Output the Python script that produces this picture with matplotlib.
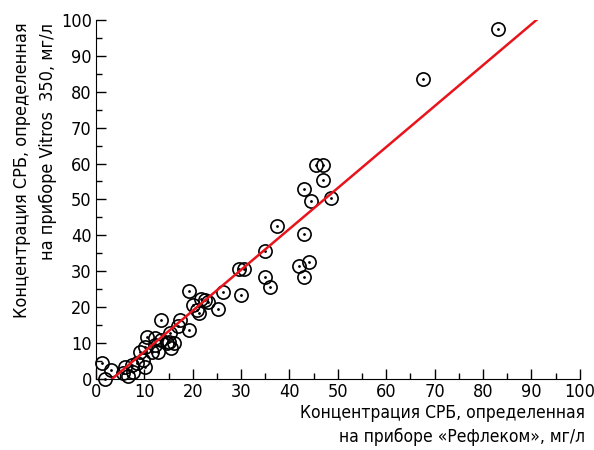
import numpy as np
import matplotlib
matplotlib.use('Agg')
import matplotlib.pyplot as plt
from matplotlib.ticker import MultipleLocator

plt.rcParams['font.family'] = ['DejaVu Sans']
plt.rcParams['font.stretch'] = 'condensed'

# Reflekom (x) vs Vitros 350 (y), mg/l
reflekom = [83, 67.5, 45.5, 47, 47, 43, 44.5, 48.5, 37.5, 43, 35, 29.5, 30.5, 35, 36,
            42, 44, 43, 30, 26.3, 19.2, 21.8, 22.5, 23.2, 20.1, 20.8, 21.3, 25.3,
            13.4, 17.4, 17, 19.3, 15.3, 15, 16.2, 12.2, 13.4, 10.5, 10.1, 12.2, 9.1,
            11.5, 12.9, 14.6, 15.6, 9.8, 10.1, 7.4, 6, 7.7, 5.6, 6.6, 1.2, 3.2, 1.9, 8.5]
vitros = [97.5, 83.5, 59.5, 59.5, 55.5, 53, 49.5, 50.5, 42.5, 40.5, 35.5, 30.5, 30.5, 28.5, 25.5,
          31.5, 32.5, 28.5, 23.5, 24.3, 24.5, 22.4, 22, 21.3, 20.6, 19.2, 18.3, 19.4,
          16.5, 16.4, 14.6, 13.6, 12.7, 10.4, 10, 11.3, 10.7, 11.8, 9, 9.5, 7.6,
          7.6, 7.6, 9.9, 8.5, 5.3, 3.4, 3.9, 3.4, 2, 1.6, 0.7, 4.5, 2.5, 0, 4.5]

# regression line
slope = 1.14
intercept = -3.8

fig = plt.figure(figsize=(5.94, 4.5), dpi=100)
ax = fig.add_axes([0.1616, 0.158, 0.8144, 0.7976])

ax.plot(reflekom, vitros, 'o', ms=9.5, mfc='none', mec='black', mew=1.2, clip_on=False, zorder=3)
ax.plot(reflekom, vitros, '.', ms=2, color='black', clip_on=False, zorder=3)

x0 = -intercept / slope
x1 = (100 - intercept) / slope
xs = np.array([x0, x1])
ax.plot(xs, slope * xs + intercept, color='#e8141c', lw=1.8, zorder=4)

ax.set_xlim(0, 100)
ax.set_ylim(0, 100)
ax.xaxis.set_major_locator(MultipleLocator(10))
ax.yaxis.set_major_locator(MultipleLocator(10))
ax.xaxis.set_minor_locator(MultipleLocator(5))
ax.yaxis.set_minor_locator(MultipleLocator(5))
ax.tick_params(which='major', direction='in', length=7, width=1, labelsize=13, pad=3)
ax.tick_params(which='minor', direction='in', length=4, width=1)
for s in ['top', 'right']:
    ax.spines[s].set_visible(False)

fig.text(0.985, 0.01, 'Концентрация СРБ, определенная\nна приборе «Рефлеком», мг/л',
         ha='right', va='bottom', fontsize=12.5, linespacing=1.4, multialignment='right')
fig.text(0.022, 0.95, 'Концентрация СРБ, определенная\nна приборе Vitros  350, мг/л',
         ha='left', va='top', rotation=90, fontsize=13, linespacing=1.55, multialignment='right')

fig.savefig('out.png', dpi=100)
